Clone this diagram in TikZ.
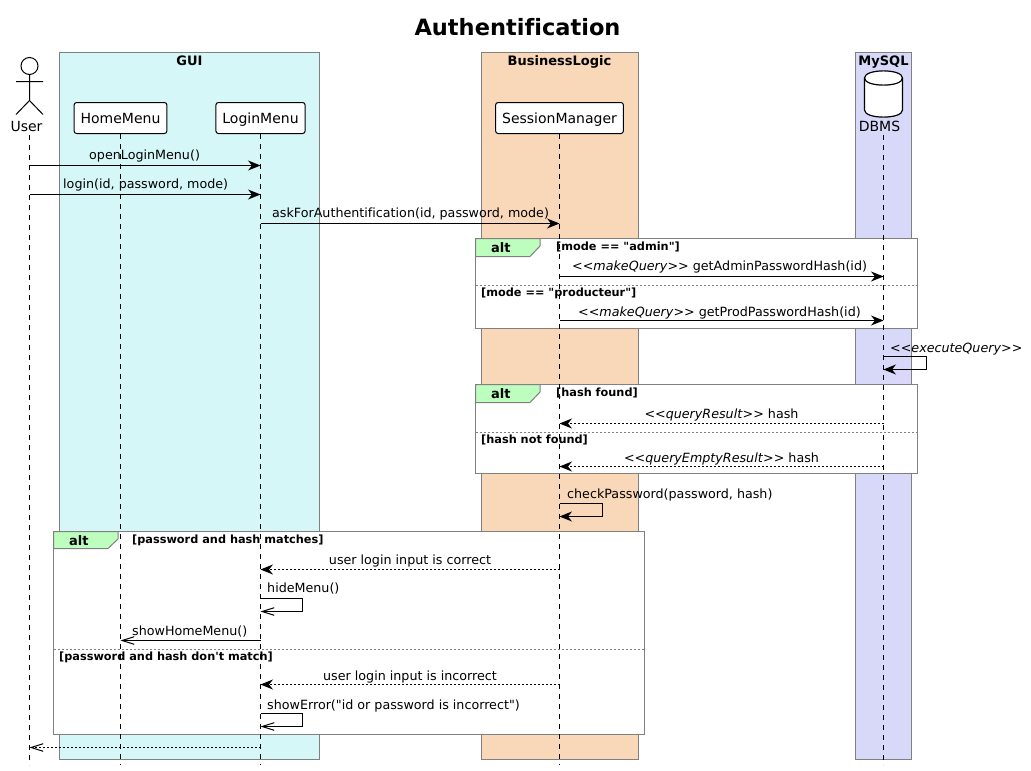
\documentclass[tikz,border=0pt]{standalone}
\usepackage{fontspec}
\setmainfont[Ligatures={TeXOff,NoCommon}]{DejaVu Sans}
\usepackage{xcolor}
\usetikzlibrary{arrows.meta}
\definecolor{guiblue}{HTML}{D6F7F7}
\definecolor{bizorange}{HTML}{F9D7B9}
\definecolor{sqlviolet}{HTML}{D8D8F8}
\definecolor{tabgreen}{HTML}{BDFDBD}
\definecolor{framegray}{HTML}{808080}

\begin{document}
\begin{tikzpicture}[
  x=1pt, y=-1pt,
  grp/.style={draw=framegray, line width=1pt},
  grptitle/.style={font=\fontsize{13}{15}\selectfont\bfseries, anchor=base},
  head/.style={draw, fill=white, rounded corners=2.5pt, line width=1pt, minimum height=31pt, inner xsep=6.5pt, text height=13pt, text depth=3pt, font=\fontsize{14}{16}\selectfont},
  actlbl/.style={font=\fontsize{14}{16}\selectfont, inner sep=0pt, anchor=base},
  lbl/.style={font=\fontsize{12.7}{15}\selectfont, inner sep=0pt, anchor=base west},
  clbl/.style={font=\fontsize{12.7}{15}\selectfont, inner sep=0pt, anchor=base},
  guard/.style={font=\fontsize{11.3}{13}\selectfont\bfseries, inner sep=0pt, anchor=base west},
  alttab/.style={draw=framegray, fill=tabgreen, line width=1pt},
  alttxt/.style={font=\fontsize{13}{15}\selectfont\bfseries, inner sep=0pt, anchor=base west},
  altframe/.style={draw=framegray, fill=white, line width=1.2pt},
  altsep/.style={draw=framegray, line width=.8pt, dash pattern=on 2pt off 2pt},
  life/.style={line width=1pt, dash pattern=on 5pt off 5pt},
  msg/.style={-{Stealth[length=12.5pt,width=10pt,inset=4pt]}, line width=1pt},
  ret/.style={msg, dash pattern=on 2pt off 2pt},
  opn/.style={-{Straight Barb[length=12pt,width=9pt,angle'=35]}, line width=1pt},
  retopn/.style={opn, dash pattern=on 2pt off 2pt}
]
\useasboundingbox (0,0) rectangle (1031,771);

% title
\node[font=\fontsize{22.5}{26}\selectfont\bfseries, anchor=base] (title) at (517.5,35) {Authentification};

% groups
\draw[grp, fill=guiblue] (59.5,52.5) rectangle (319.5,759.5);
\draw[grp, fill=bizorange] (481.5,52.5) rectangle (638.5,759.5);
\draw[grp, fill=sqlviolet] (855.5,52.5) rectangle (911.5,759.5);
\node[grptitle] (guititle) at (189.5,65) {GUI};
\node[grptitle] (bizitle) at (559.5,65) {BusinessLogic};
\node[grptitle] (sqltitle) at (883.5,65) {MySQL};

% alt frames
\draw[altframe] (475.5,238.5) rectangle (917.5,328.5);
\draw[alttab] (475.5,238.5) -- (540,238.5) -- (540,246) -- (530,256.5) -- (475.5,256.5) -- cycle;
\draw[altsep] (475.5,285.5) -- (917.5,285.5);
\node[alttxt] (altone) at (491,252) {alt};
\node[guard] (grdadmin) at (556,250.5) {[mode == "admin"]};
\node[guard] (grdprod) at (481,296) {[mode == "producteur"]};

\draw[altframe] (475.5,384.5) rectangle (917.5,473.5);
\draw[alttab] (475.5,384.5) -- (540,384.5) -- (540,392) -- (530,402.5) -- (475.5,402.5) -- cycle;
\draw[altsep] (475.5,432.5) -- (917.5,432.5);
\node[alttxt] (alttwo) at (491,398) {alt};
\node[guard] (grdfound) at (556,396.5) {[hash found]};
\node[guard] (grdnot) at (481,443) {[hash not found]};

\draw[altframe] (53.5,531.5) rectangle (644.5,734.5);
\draw[alttab] (53.5,531.5) -- (118,531.5) -- (118,539) -- (108,548.5) -- (53.5,548.5) -- cycle;
\draw[altsep] (53.5,649.5) -- (644.5,649.5);
\node[alttxt] (altthree) at (69,545) {alt};
\node[guard] (grdmatch) at (132,543.5) {[password and hash matches]};
\node[guard] (grdnomatch) at (59,660.5) {[password and hash don't match]};

% participants
\draw[line width=1pt] (29.5,66) circle (8.5pt);
\draw[line width=1pt] (29.5,74.5) -- (29.5,100.5) (16,81.5) -- (43,81.5) (16,114.5) -- (29.5,100.5) -- (43,114.5);
\node[actlbl] (user) at (26.5,131) {User};
\node[head] (home) at (120.5,118) {HomeMenu};
\node[head] (loginmenu) at (260.5,118) {LoginMenu};
\node[head] (session) at (559.5,118) {SessionManager};
\draw[line width=1.2pt, fill=white] (864.5,78) .. controls (864.5,68.5) and (902.5,68.5) .. (902.5,78) -- (902.5,110) .. controls (902.5,119.5) and (864.5,119.5) .. (864.5,110) -- cycle;
\draw[line width=1.2pt] (864.5,78) .. controls (864.5,87.5) and (902.5,87.5) .. (902.5,78);
\node[actlbl] (dbms) at (879.5,131) {DBMS};

% lifelines
\coordinate (userend) at (29.5,765);
\coordinate (homeend) at (120.5,765);
\coordinate (loginend) at (260.5,765);
\coordinate (sessionend) at (559.5,765);
\coordinate (dbmsend) at (883.5,765);
\draw[life] (29.5,135) -- (userend);
\draw[life] (home.south) -- (homeend);
\draw[life] (loginmenu.south) -- (loginend);
\draw[life] (session.south) -- (sessionend);
\draw[life] (883.5,135) -- (dbmsend);

% messages
\draw[msg] (userend |- 0,165.5) -- (loginend |- 0,165.5);
\node[lbl] (mopen) at (89,159.5) {openLoginMenu()};
\draw[msg] (userend |- 0,194.5) -- (loginend |- 0,194.5);
\node[lbl] (mlogin) at (63,188) {login(id, password, mode)};
\draw[msg] (loginend |- 0,223.5) -- (sessionend |- 0,223.5);
\node[lbl] (mask) at (272,217.5) {askForAuthentification(id, password, mode)};
\draw[msg] (sessionend |- 0,276.5) -- (dbmsend |- 0,276.5);
\node[lbl] (madmin) at (572,270) {<<\textit{makeQuery}>>\ getAdminPasswordHash(id)};
\draw[msg] (sessionend |- 0,320.5) -- (dbmsend |- 0,320.5);
\node[lbl] (mprod) at (578,316) {<<\textit{makeQuery}>>\ getProdPasswordHash(id)};
\draw[msg] (dbmsend |- 0,356.5) -- ++(42.5,0) -- ++(0,13) -- (dbmsend |- 0,369.5);
\node[lbl] (mexec) at (890,352) {<<\textit{executeQuery}>>};
\draw[ret] (dbmsend |- 0,423.5) -- (sessionend |- 0,423.5);
\node[clbl] (mfound) at (721.5,418) {<<\textit{queryResult}>> hash};
\draw[ret] (dbmsend |- 0,466.5) -- (sessionend |- 0,466.5);
\node[clbl] (mempty) at (721.5,462) {<<\textit{queryEmptyResult}>> hash};
\draw[msg] (sessionend |- 0,503.5) -- ++(43,0) -- ++(0,13) -- (sessionend |- 0,516.5);
\node[lbl] (mcheck) at (567,498) {checkPassword(password, hash)};
\draw[ret] (sessionend |- 0,569.5) -- (loginend |- 0,569.5);
\node[clbl] (mok) at (410,564) {user login input is correct};
\draw[opn] (loginend |- 0,598.5) -- ++(42,0) -- ++(0,13) -- (loginend |- 0,611.5);
\node[lbl] (mhide) at (267,592.5) {hideMenu()};
\draw[opn] (loginend |- 0,640.5) -- (homeend |- 0,640.5);
\node[lbl] (mshow) at (132,635.5) {showHomeMenu()};
\draw[ret] (sessionend |- 0,684.5) -- (loginend |- 0,684.5);
\node[clbl] (mbad) at (410,680) {user login input is incorrect};
\draw[opn] (loginend |- 0,713.5) -- ++(42,0) -- ++(0,13) -- (loginend |- 0,726.5);
\node[lbl] (merr) at (267,709) {showError("id or password is incorrect")};
\draw[retopn] (loginend |- 0,747.5) -- (userend |- 0,747.5);
\end{tikzpicture}
\end{document}
